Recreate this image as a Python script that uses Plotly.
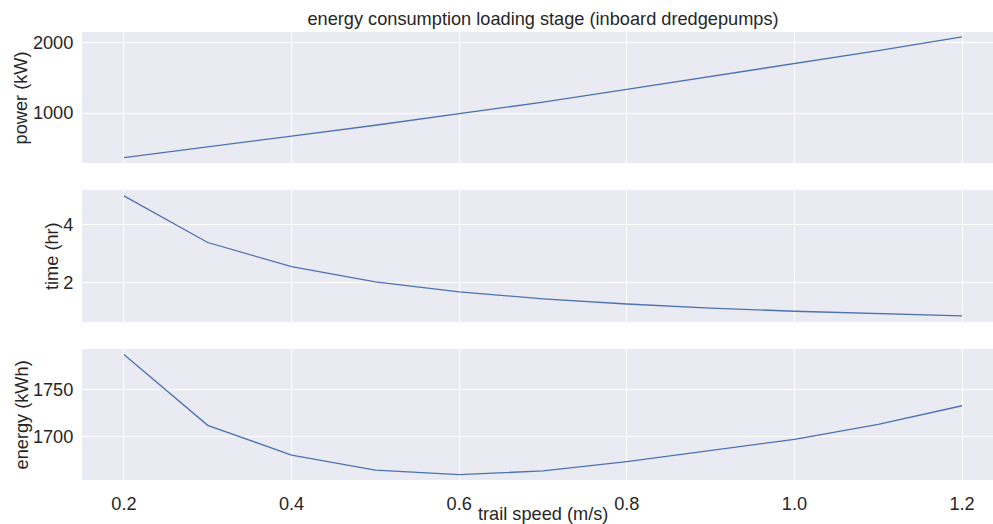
import plotly.graph_objects as go
from plotly.subplots import make_subplots

speed = [0.2, 0.3, 0.4, 0.5, 0.6, 0.7, 0.8, 0.9, 1.0, 1.1, 1.2]
power_kw = [362, 512, 671, 825, 985, 1155, 1339, 1520, 1705, 1890, 2086]
time_hr = [4.98, 3.37, 2.54, 2.01, 1.67, 1.43, 1.25, 1.11, 1.0, 0.91, 0.84]
energy_kwh = [1788, 1712, 1680, 1664, 1659, 1663, 1673, 1685, 1697, 1713, 1733]

y_tickvals = [[1000, 2000], [2, 4], [1700, 1750]]
x_tickvals = [0.2, 0.4, 0.6, 0.8, 1.0, 1.2]
y_labels = ["power (kW)", "time (hr)", "energy (kWh)"]

FONT = "Liberation Sans, Arial, sans-serif"
TXT = "#262626"
FS = 18.2
LINE = "#4C72B0"
BG = "#EAEAF2"

fig = make_subplots(rows=3, cols=1, shared_xaxes=True)
for i, ys in enumerate([power_kw, time_hr, energy_kwh]):
    fig.add_trace(go.Scatter(x=speed, y=ys, mode="lines",
                             line=dict(color=LINE, width=1.3),
                             showlegend=False, hoverinfo="skip"), row=i + 1, col=1)

domains = [[0.7076, 1.0], [0.3527, 0.6473], [0.0, 0.2924]]
ranges = [[286, 2157], [0.63, 5.18], [1653.3, 1793.9]]
for i in range(3):
    n = "" if i == 0 else str(i + 1)
    fig.layout["yaxis" + n].update(
        domain=domains[i], range=ranges[i], tickvals=y_tickvals[i],
        showgrid=True, gridcolor="white", gridwidth=1.4, zeroline=False,
        showline=False, ticks="outside", ticklen=4, tickcolor="rgba(0,0,0,0)",
        tickfont=dict(family=FONT, size=FS, color=TXT))
    fig.layout["xaxis" + n].update(
        range=[0.15, 1.2369], tickvals=x_tickvals,
        ticktext=[f"{v:.1f}" for v in x_tickvals],
        showgrid=True, gridcolor="white", gridwidth=1.4, zeroline=False,
        showline=False, ticks="outside", ticklen=7, tickcolor="rgba(0,0,0,0)",
        showticklabels=(i == 2),
        tickfont=dict(family=FONT, size=FS, color=TXT))

label_x = [-0.0659, -0.0329, -0.0659]
for i in range(3):
    fig.add_annotation(text=y_labels[i], xref="paper", yref="paper",
                       x=label_x[i], y=(domains[i][0] + domains[i][1]) / 2,
                       xanchor="center", yanchor="middle", textangle=-90,
                       showarrow=False, font=dict(family=FONT, size=FS, color=TXT))

fig.add_annotation(text="trail speed (m/s)", xref="paper", yref="paper",
                   x=0.506, y=-0.0757, xanchor="center", yanchor="middle",
                   showarrow=False, font=dict(family=FONT, size=FS, color=TXT))

fig.update_layout(
    width=993, height=524,
    margin=dict(l=82, r=0, t=32, b=44, autoexpand=False),
    paper_bgcolor="white", plot_bgcolor=BG,
    title=dict(text="energy consumption loading stage (inboard dredgepumps)",
               xref="container", yref="container", x=543 / 993, y=1 - 19 / 524,
               xanchor="center", yanchor="middle",
               font=dict(family=FONT, size=FS, color=TXT)),
)

fig.write_html("out.html", config={"displayModeBar": False})
